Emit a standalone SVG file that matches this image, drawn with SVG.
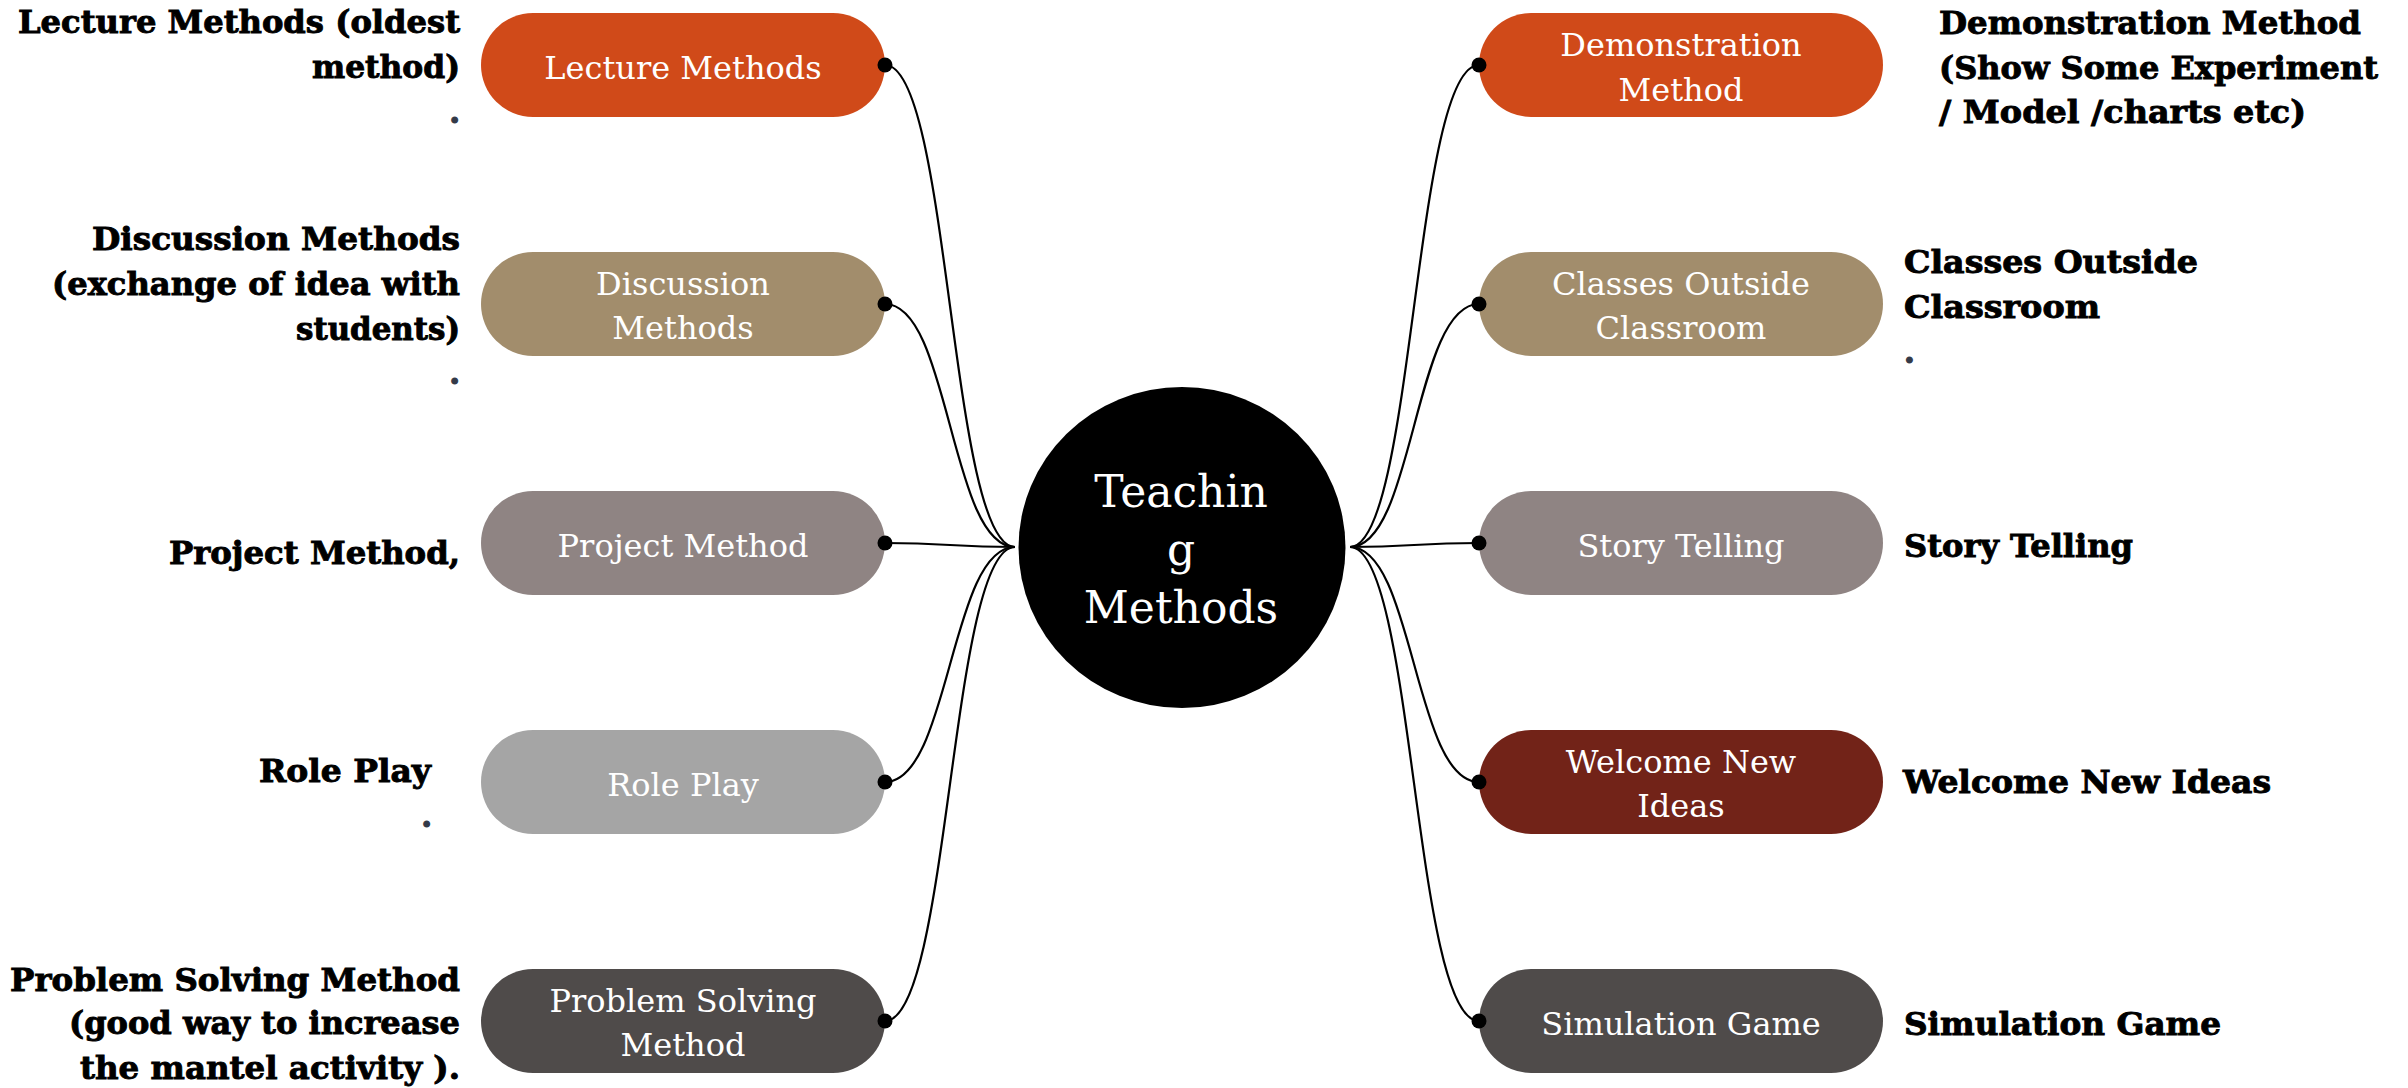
<svg xmlns="http://www.w3.org/2000/svg" width="2408" height="1088" viewBox="0 0 2408 1088">
<style>
.pill-text{font-family:"DejaVu Serif","Liberation Serif",serif;font-size:32px;fill:#ffffff;text-anchor:middle}
.lbl{font-family:"DejaVu Serif","Liberation Serif",serif;font-weight:bold;font-size:31px;fill:#000000;stroke:#000000;stroke-width:0.9}
.lbl-l{text-anchor:end}
.lbl-r{text-anchor:start}
.dotc{fill:#333a48;stroke:#333a48;stroke-width:1.2}
.conn{fill:none;stroke:#000000;stroke-width:2.2}
.pt{fill:#000000}
.center-text{font-family:"DejaVu Serif","Liberation Serif",serif;font-size:44px;fill:#ffffff;text-anchor:middle}
</style>
<rect width="2408" height="1088" fill="#ffffff"/>

<g id="connectors">
<path class="conn" d="M885,65 C950,65 950,547 1015,547"/>
<path class="conn" d="M885,304 C950,304 950,547 1015,547"/>
<path class="conn" d="M885,543 C950,543 950,547 1015,547"/>
<path class="conn" d="M885,782 C950,782 950,547 1015,547"/>
<path class="conn" d="M885,1021 C950,1021 950,547 1015,547"/>
<path class="conn" d="M1479,65 C1414,65 1414,547 1350,547"/>
<path class="conn" d="M1479,304 C1414,304 1414,547 1350,547"/>
<path class="conn" d="M1479,543 C1414,543 1414,547 1350,547"/>
<path class="conn" d="M1479,782 C1414,782 1414,547 1350,547"/>
<path class="conn" d="M1479,1021 C1414,1021 1414,547 1350,547"/>
</g>

<g id="center">
<ellipse cx="1182" cy="547.5" rx="163.5" ry="160.5" fill="#000000"/>
<text class="center-text" x="1181" y="507">Teachin</text>
<text class="center-text" x="1181" y="565">g</text>
<text class="center-text" x="1181" y="623">Methods</text>
</g>

<g id="lecture">
<rect x="481" y="13" width="404" height="104" rx="52" fill="#d04a19"/>
<text class="pill-text" x="683" y="79">Lecture Methods</text>
<circle class="pt" cx="885" cy="65" r="7.5"/>
</g>
<g id="discussion">
<rect x="481" y="252" width="404" height="104" rx="52" fill="#a28d6c"/>
<text class="pill-text" x="683" y="295">Discussion</text>
<text class="pill-text" x="683" y="339">Methods</text>
<circle class="pt" cx="885" cy="304" r="7.5"/>
</g>
<g id="project">
<rect x="481" y="491" width="404" height="104" rx="52" fill="#8f8483"/>
<text class="pill-text" x="683" y="557">Project Method</text>
<circle class="pt" cx="885" cy="543" r="7.5"/>
</g>
<g id="roleplay">
<rect x="481" y="730" width="404" height="104" rx="52" fill="#a5a5a5"/>
<text class="pill-text" x="683" y="796">Role Play</text>
<circle class="pt" cx="885" cy="782" r="7.5"/>
</g>
<g id="problem">
<rect x="481" y="969" width="404" height="104" rx="52" fill="#4f4b4a"/>
<text class="pill-text" x="683" y="1012">Problem Solving</text>
<text class="pill-text" x="683" y="1056">Method</text>
<circle class="pt" cx="885" cy="1021" r="7.5"/>
</g>

<g id="demonstration">
<rect x="1479" y="13" width="404" height="104" rx="52" fill="#d04a19"/>
<text class="pill-text" x="1681" y="56">Demonstration</text>
<text class="pill-text" x="1681" y="101">Method</text>
<circle class="pt" cx="1479" cy="65" r="7.5"/>
</g>
<g id="classes">
<rect x="1479" y="252" width="404" height="104" rx="52" fill="#a28d6c"/>
<text class="pill-text" x="1681" y="295">Classes Outside</text>
<text class="pill-text" x="1681" y="339">Classroom</text>
<circle class="pt" cx="1479" cy="304" r="7.5"/>
</g>
<g id="story">
<rect x="1479" y="491" width="404" height="104" rx="52" fill="#8f8483"/>
<text class="pill-text" x="1681" y="557">Story Telling</text>
<circle class="pt" cx="1479" cy="543" r="7.5"/>
</g>
<g id="welcome">
<rect x="1479" y="730" width="404" height="104" rx="52" fill="#722318"/>
<text class="pill-text" x="1681" y="773">Welcome New</text>
<text class="pill-text" x="1681" y="817">Ideas</text>
<circle class="pt" cx="1479" cy="782" r="7.5"/>
</g>
<g id="simulation">
<rect x="1479" y="969" width="404" height="104" rx="52" fill="#4f4b4a"/>
<text class="pill-text" x="1681" y="1035">Simulation Game</text>
<circle class="pt" cx="1479" cy="1021" r="7.5"/>
</g>

<g id="labels-left">
<text class="lbl lbl-l" x="460" y="33" textLength="442" lengthAdjust="spacingAndGlyphs">Lecture Methods (oldest</text>
<text class="lbl lbl-l" x="460" y="78" textLength="148" lengthAdjust="spacingAndGlyphs">method)</text>
<text class="lbl lbl-l dotc" x="460" y="123">.</text>
<text class="lbl lbl-l" x="460" y="250" textLength="368" lengthAdjust="spacingAndGlyphs">Discussion Methods</text>
<text class="lbl lbl-l" x="460" y="295" textLength="408" lengthAdjust="spacingAndGlyphs">(exchange of idea with</text>
<text class="lbl lbl-l" x="460" y="340" textLength="164" lengthAdjust="spacingAndGlyphs">students)</text>
<text class="lbl lbl-l dotc" x="460" y="384">.</text>
<text class="lbl lbl-l" x="460" y="564" textLength="291" lengthAdjust="spacingAndGlyphs">Project Method,</text>
<text class="lbl lbl-l" x="431" y="782" textLength="172" lengthAdjust="spacingAndGlyphs">Role Play</text>
<text class="lbl lbl-l dotc" x="432" y="827">.</text>
<text class="lbl lbl-l" x="460" y="991" textLength="450" lengthAdjust="spacingAndGlyphs">Problem Solving Method</text>
<text class="lbl lbl-l" x="460" y="1034" textLength="391" lengthAdjust="spacingAndGlyphs">(good way to increase</text>
<text class="lbl lbl-l" x="460" y="1079" textLength="380" lengthAdjust="spacingAndGlyphs">the mantel activity ).</text>
</g>

<g id="labels-right">
<text class="lbl lbl-r" x="1939" y="34" textLength="422" lengthAdjust="spacingAndGlyphs">Demonstration Method</text>
<text class="lbl lbl-r" x="1939" y="79" textLength="439" lengthAdjust="spacingAndGlyphs">(Show Some Experiment</text>
<text class="lbl lbl-r" x="1939" y="123" textLength="367" lengthAdjust="spacingAndGlyphs">/ Model /charts etc)</text>
<text class="lbl lbl-r" x="1904" y="273" textLength="294" lengthAdjust="spacingAndGlyphs">Classes Outside</text>
<text class="lbl lbl-r" x="1904" y="318" textLength="196" lengthAdjust="spacingAndGlyphs">Classroom</text>
<text class="lbl lbl-r dotc" x="1904" y="363">.</text>
<text class="lbl lbl-r" x="1904" y="557" textLength="229" lengthAdjust="spacingAndGlyphs">Story Telling</text>
<text class="lbl lbl-r" x="1903" y="793" textLength="368" lengthAdjust="spacingAndGlyphs">Welcome New Ideas</text>
<text class="lbl lbl-r" x="1904" y="1035" textLength="317" lengthAdjust="spacingAndGlyphs">Simulation Game</text>
</g>
</svg>
